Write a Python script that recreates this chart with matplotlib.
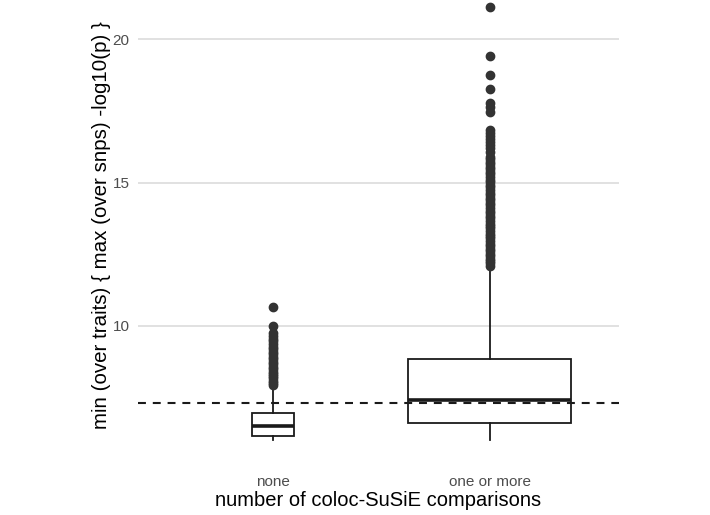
# Boxplot: min (over traits) max (over snps) -log10(p) por numero de comparaciones coloc-SuSiE
import matplotlib.pyplot as plt

plt.rcParams['font.family'] = ['Liberation Sans', 'DejaVu Sans']

categorias = ["none", "one or more"]

# Estadisticos de cada caja
whislo = [6.03, 6.03]
q1 = [6.17, 6.61]
mediana = [6.52, 7.42]
q3 = [6.97, 8.84]
whishi = [7.94, 12.05]

# Valores atipicos
atipicos_none = [7.95, 8.02, 8.10, 8.18, 8.25, 8.33, 8.41, 8.50, 8.58, 8.66,
                 8.75, 8.84, 8.92, 9.01, 9.10, 9.19, 9.28, 9.37, 9.46, 9.55,
                 9.64, 9.76, 10.01, 10.65]
atipicos_uno = [12.10, 12.18, 12.27, 12.35, 12.44, 12.52, 12.61, 12.70, 12.78, 12.87,
                12.96, 13.05, 13.13, 13.22, 13.31, 13.40, 13.49, 13.57, 13.66, 13.75,
                13.84, 13.93, 14.02, 14.11, 14.20, 14.29, 14.38, 14.47, 14.56, 14.65,
                14.74, 14.83, 14.92, 15.01, 15.10, 15.19, 15.28, 15.37, 15.46, 15.55,
                15.64, 15.73, 15.82, 15.90, 16.05, 16.20, 16.30, 16.40, 16.50, 16.62,
                16.72, 16.83, 17.46, 17.62, 17.77, 18.25, 18.75, 19.41, 21.13]
atipicos = [atipicos_none, atipicos_uno]

# Ancho variable de las cajas (varwidth)
anchos = [0.196, 0.75]

umbral = 7.3  # -log10(5e-8)
yticks = [10, 15, 20]

fig = plt.figure(figsize=(7.1, 5.15), dpi=100)
ax = fig.add_axes([138 / 710, 53 / 515, 481 / 710, 462 / 515])

stats = []
for i, cat in enumerate(categorias):
    stats.append(dict(label=cat, whislo=whislo[i], q1=q1[i], med=mediana[i],
                      q3=q3[i], whishi=whishi[i], fliers=atipicos[i]))

ax.bxp(stats, positions=[1, 2], widths=anchos, patch_artist=True, showcaps=False,
       boxprops=dict(facecolor='white', edgecolor='#1a1a1a', linewidth=1.3),
       medianprops=dict(color='#1a1a1a', linewidth=2.6),
       whiskerprops=dict(color='#1a1a1a', linewidth=1.3),
       flierprops=dict(marker='o', markerfacecolor='#333333', markeredgecolor='#333333',
                       markersize=6, linestyle='none'),
       zorder=3)

# Linea de significancia genome-wide
ax.axhline(umbral, color='#1a1a1a', linewidth=1.5, dashes=(3.8, 3.3), zorder=4)

ax.set_xlim(0.376, 2.598)
ax.set_ylim(5.26, 21.36)
ax.set_yticks(yticks)
ax.set_xticks([1, 2])
ax.set_xticklabels(categorias)
ax.yaxis.grid(True, color='#d9d9d9', linewidth=1.1)
ax.xaxis.grid(False)
ax.set_axisbelow(True)
for s in ax.spines.values():
    s.set_visible(False)
ax.tick_params(length=0, labelsize=11, labelcolor='#4d4d4d')
ax.tick_params(axis='x', pad=9)
ax.tick_params(axis='y', pad=6)

ax.set_xlabel("number of coloc-SuSiE comparisons", fontsize=14.5, color='black', labelpad=2)
ax.set_ylabel("min (over traits) { max (over snps) -log10(p) }", fontsize=14.8,
              color='black', labelpad=1)
ax.yaxis.label.set_y(0.513)

plt.savefig("out.png", dpi=100)
